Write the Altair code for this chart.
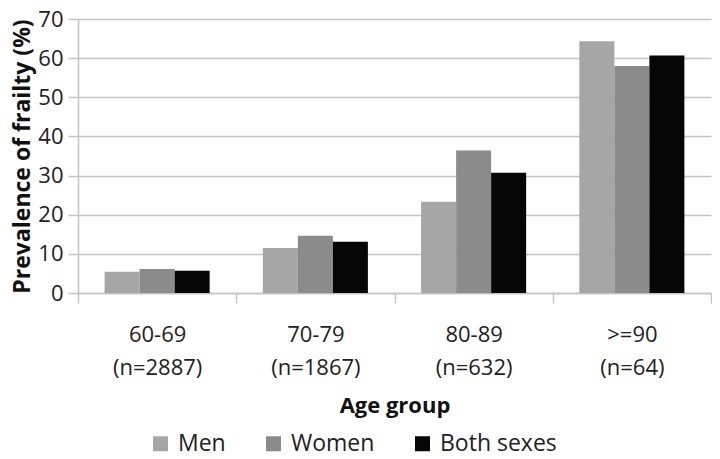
import altair as alt
import pandas as pd

age_groups = ["60-69", "70-79", "80-89", ">=90"]
sample_sizes = ["(n=2887)", "(n=1867)", "(n=632)", "(n=64)"]
sexes = ["Men", "Women", "Both sexes"]
men = [5.4, 11.5, 23.3, 64.3]
women = [6.1, 14.6, 36.4, 58.0]
both = [5.7, 13.1, 30.7, 60.7]
colors = ["#a6a6a6", "#8b8b8b", "#060606"]
y_ticks = [0, 10, 20, 30, 40, 50, 60, 70]

labels = [g + "|" + n for g, n in zip(age_groups, sample_sizes)]
rows = []
for i, lab in enumerate(labels):
    for s, vals in zip(sexes, [men, women, both]):
        rows.append({"group": lab, "sex": s, "value": vals[i]})
df = pd.DataFrame(rows)

FONT = "Open Sans"
GRID = "#c4c4c4"

chart = alt.Chart(df).mark_bar().encode(
    x=alt.X(
        "group:N",
        sort=labels,
        scale=alt.Scale(paddingInner=0, paddingOuter=0),
        axis=alt.Axis(
            title="Age group",
            labelExpr="split(datum.label, '|')",
            tickBand="extent",
            labelAngle=0,
            labelFont=FONT,
            labelFontSize=22,
            labelColor="#222222",
            labelLineHeight=33,
            labelPadding=21,
            tickSize=10,
            tickColor=GRID,
            tickWidth=1.5,
            domainColor=GRID,
            domainWidth=1.5,
            titleFont=FONT,
            titleFontSize=22,
            titleFontWeight="bold",
            titleColor="#111111",
            titlePadding=17,
        ),
    ),
    xOffset=alt.XOffset(
        "sex:N", sort=sexes, scale=alt.Scale(paddingInner=0, paddingOuter=0.76)
    ),
    y=alt.Y(
        "value:Q",
        scale=alt.Scale(domain=[0, 70], nice=False),
        axis=alt.Axis(
            values=y_ticks,
            title="Prevalence  of frailty (%)",
            labelFont=FONT,
            labelFontSize=22,
            labelColor="#222222",
            labelPadding=5,
            tickSize=10,
            tickColor=GRID,
            tickWidth=1.5,
            domainColor=GRID,
            domainWidth=1.5,
            gridColor=GRID,
            gridWidth=1.5,
            titleFont=FONT,
            titleFontSize=23,
            titleFontWeight="bold",
            titleColor="#111111",
            titlePadding=3,
        ),
    ),
    color=alt.Color(
        "sex:N",
        sort=sexes,
        scale=alt.Scale(domain=sexes, range=colors),
        legend=alt.Legend(
            title=None,
            orient="none",
            direction="horizontal",
            legendX=71,
            legendY=413,
            padding=0,
            symbolType="square",
            symbolSize=225,
            symbolStrokeWidth=0,
            symbolOpacity=1,
            labelFont=FONT,
            labelFontSize=23,
            labelColor="#222222",
            labelOffset=6,
            columnPadding=36,
        ),
    ),
).properties(
    width=633,
    height=274,
    autosize=alt.AutoSizeParams(type="none"),
    padding={"left": 70, "top": 11, "right": 1, "bottom": 165},
).configure_view(stroke=None).configure_axis(grid=False).configure_axisY(grid=True)

chart.save("out.html", embed_options={"renderer": "svg", "actions": False})
